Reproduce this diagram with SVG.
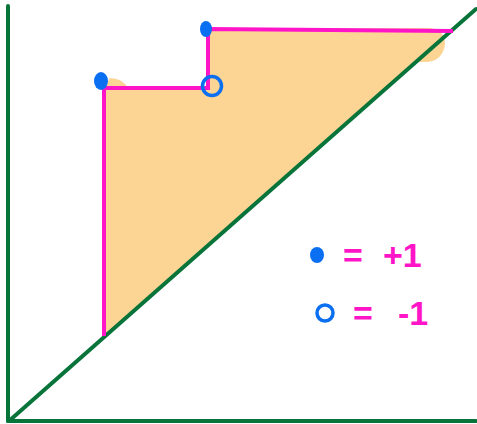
<svg xmlns="http://www.w3.org/2000/svg" width="477" height="424" viewBox="0 0 477 424">
<style>
.axis{stroke:#08743a;stroke-width:4;fill:none;stroke-linecap:round}
.edge{stroke:#ff14c8;stroke-width:4;fill:none;stroke-linejoin:miter}
.dot{fill:#0b6ff2}
.ring{fill:none;stroke:#0b6ff2;stroke-width:3.5}
.lbl{fill:#ff14c8;font-family:"Liberation Sans",Arial,sans-serif;font-size:34px;font-weight:bold}
</style>
<rect width="477" height="424" fill="#ffffff"/>
<g id="region">
<path d="M104,337 L104,88 L110,78 Q122,78 128,88 L208,88 L208,29 L430,28 Q445,30 445,44 Q443,60 428,62 L418,62 L104,337 Z" fill="#fcd594"/>
</g>
<g id="axes">
<line class="axis" x1="8" y1="6" x2="8" y2="421"/>
<line class="axis" x1="8" y1="421" x2="476" y2="421"/>
<line class="axis" x1="9" y1="421" x2="476" y2="9"/>
</g>
<g id="connectors">
<polyline class="edge" points="104,336 104,88 208,88 208,29 453,31"/>
</g>
<g id="points">
<ellipse class="dot" cx="101" cy="81" rx="7" ry="9"/>
<ellipse class="dot" cx="206" cy="29" rx="6" ry="8"/>
<ellipse class="ring" cx="212" cy="86" rx="9.5" ry="9.5"/>
</g>
<g id="legend">
<ellipse class="dot" cx="317" cy="255" rx="7" ry="8"/>
<ellipse class="ring" cx="325" cy="313" rx="8" ry="8"/>
<text class="lbl" x="343" y="267">=</text>
<text class="lbl" x="383" y="267">+1</text>
<text class="lbl" x="353" y="325">=</text>
<text class="lbl" x="398" y="325">-1</text>
</g>
</svg>
